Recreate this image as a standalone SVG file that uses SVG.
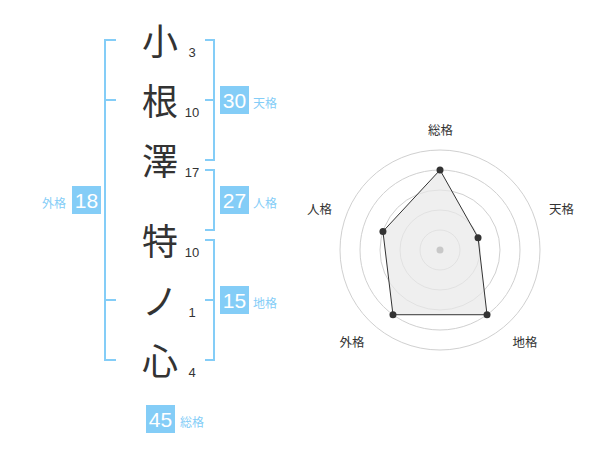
<svg xmlns="http://www.w3.org/2000/svg" width="600" height="470" viewBox="0 0 600 470">
<style>
.ch{font-family:"Noto Sans CJK JP","Noto Sans CJK SC",sans-serif;font-size:36px;fill:#333;text-anchor:middle}
.st{font-family:"Liberation Sans",Arial,sans-serif;font-size:13px;fill:#333;text-anchor:middle}
.br{fill:none;stroke:#84cdf7;stroke-width:2}
.box{fill:#84cdf7}
.bn{font-family:"Liberation Sans",Arial,sans-serif;font-size:21px;fill:#fff;text-anchor:middle}
.bl{font-family:"Noto Sans CJK JP",sans-serif;font-size:12px;fill:#84cdf7}
.rl{font-family:"Noto Sans CJK JP",sans-serif;font-size:12.5px;fill:#333;text-anchor:middle}
.ring{fill:none;stroke:#d0d0d0;stroke-width:1}
.dot{fill:#333}
</style>
<rect width="600" height="470" fill="#fff"/>
<g id="name">
<g id="c1"><text class="ch" x="160" y="55">小</text><text class="st" x="192" y="57">3</text></g>
<g id="c2"><text class="ch" x="160" y="115">根</text><text class="st" x="192" y="117">10</text></g>
<g id="c3"><text class="ch" x="160" y="175">澤</text><text class="st" x="192" y="177">17</text></g>
<g id="c4"><text class="ch" x="160" y="255">特</text><text class="st" x="192" y="257">10</text></g>
<g id="c5"><text class="ch" x="160" y="315">ノ</text><text class="st" x="192" y="317">1</text></g>
<g id="c6"><text class="ch" x="160" y="375">心</text><text class="st" x="192" y="377">4</text></g>
</g>
<g id="connectors">
<path class="br" d="M116,40 H105 V360 H116 M105,100 H116 M105,300 H116"/>
<path class="br" d="M205,40 H214 V160 H205 M205,100 H214"/>
<path class="br" d="M205,170 H214 V230 H205"/>
<path class="br" d="M205,240 H214 V360 H205 M205,300 H214"/>
</g>
<g id="gaikaku"><rect class="box" x="72" y="186" width="29" height="28"/><text class="bn" x="86.5" y="207.5">18</text><text class="bl" x="66" y="208" text-anchor="end">外格</text></g>
<g id="tenkaku"><rect class="box" x="220" y="86" width="29" height="28"/><text class="bn" x="234.5" y="107.5">30</text><text class="bl" x="253" y="108">天格</text></g>
<g id="jinkaku"><rect class="box" x="220" y="186" width="29" height="28"/><text class="bn" x="234.5" y="207.5">27</text><text class="bl" x="253" y="208">人格</text></g>
<g id="chikaku"><rect class="box" x="220" y="286" width="29" height="28"/><text class="bn" x="234.5" y="307.5">15</text><text class="bl" x="253" y="308">地格</text></g>
<g id="soukaku"><rect class="box" x="146" y="405" width="29" height="28"/><text class="bn" x="160.5" y="426.5">45</text><text class="bl" x="180" y="427">総格</text></g>
<g id="radar">
<circle class="ring" cx="440" cy="250" r="20"/>
<circle class="ring" cx="440" cy="250" r="40"/>
<circle class="ring" cx="440" cy="250" r="60"/>
<circle class="ring" cx="440" cy="250" r="80"/>
<circle class="ring" cx="440" cy="250" r="100"/>
<polygon points="440,170 478.04,237.64 487.02,314.72 392.98,314.72 382.94,231.46" fill="#e8e8e8" fill-opacity="0.7" stroke="#333" stroke-width="1"/>
<circle cx="440" cy="250" r="3.5" fill="#c8c8c8"/>
<circle class="dot" cx="440" cy="170" r="3.5"/>
<circle class="dot" cx="478.04" cy="237.64" r="3.5"/>
<circle class="dot" cx="487.02" cy="314.72" r="3.5"/>
<circle class="dot" cx="392.98" cy="314.72" r="3.5"/>
<circle class="dot" cx="382.94" cy="231.46" r="3.5"/>
<text class="rl" x="440.5" y="135">総格</text>
<text class="rl" x="561.5" y="213.5">天格</text>
<text class="rl" x="319.5" y="213.5">人格</text>
<text class="rl" x="525" y="346.5">地格</text>
<text class="rl" x="352" y="346.5">外格</text>
</g>
</svg>
